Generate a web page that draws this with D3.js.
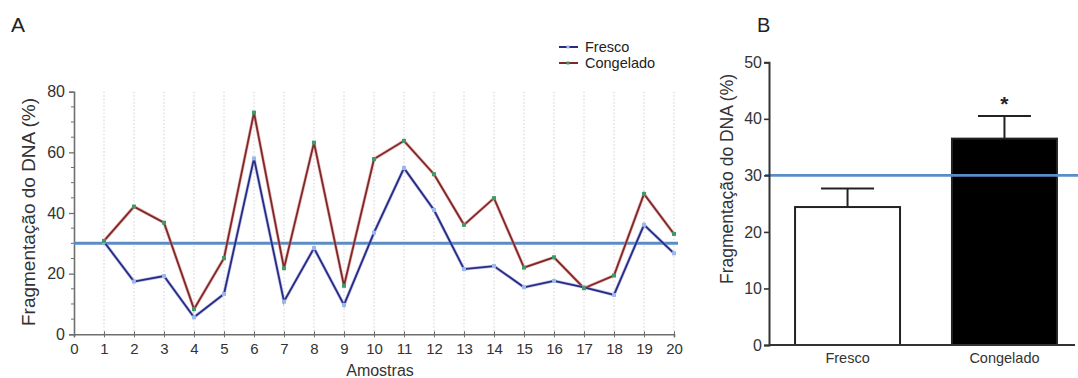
<!DOCTYPE html>
<html>
<head>
<meta charset="utf-8">
<script src="https://cdn.jsdelivr.net/npm/d3@7"></script>
<style>
  html, body { margin: 0; padding: 0; background: #fff; }
  svg { display: block; }
  text { font-family: "Liberation Sans", Arial, sans-serif; }
</style>
</head>
<body>
<svg id="chart" width="1078" height="378"></svg>
<script>
// Panel A: DNA fragmentation per sample
const samples = d3.range(1, 21);
const fresco = [30.5, 17.4, 19.2, 5.6, 13.3, 58.0, 10.8, 28.4, 9.7, 33.5,
                54.8, 41.0, 21.5, 22.5, 15.5, 17.6, 15.5, 13.0, 36.1, 26.7];
const congelado = [30.8, 42.1, 36.8, 8.3, 25.1, 73.1, 21.8, 63.2, 16.0, 57.8,
                   63.8, 52.8, 36.1, 44.9, 22.0, 25.4, 15.2, 19.4, 46.3, 33.1];
const xTicksA = d3.range(0, 21);
const yTicksA = [0, 20, 40, 60, 80];
const threshold = 30;

// Panel B: group means with SEM
const groups = ["Fresco", "Congelado"];
const means = [24.4, 36.5];
const sem = [3.3, 4.0];
const yTicksB = [0, 10, 20, 30, 40, 50];
const significance = ["", "*"];

const svg = d3.select("#chart");
const axisGray = "#6e6e6e";
const refBlue = "#5b8cc6";

// ---------- Panel A ----------
const xA = d3.scaleLinear().domain([0, 20]).range([74, 674]);
const yA = d3.scaleLinear().domain([0, 80]).range([334.3, 91.7]);

svg.append("text").attr("x", 11).attr("y", 32)
  .attr("font-size", 21).attr("font-family", "'Open Sans', sans-serif").attr("fill", "#222").text("A");

// dotted vertical grid
svg.append("g").selectAll("line").data(samples).join("line")
  .attr("x1", d => xA(d)).attr("x2", d => xA(d))
  .attr("y1", yA(80)).attr("y2", yA(0))
  .attr("stroke", "#cfcfcf").attr("stroke-width", 1).attr("stroke-dasharray", "1.5,2");

// y axis
const gyA = svg.append("g").attr("transform", `translate(${xA(0)},0)`)
  .call(d3.axisLeft(yA).tickValues(yTicksA).tickSize(5).tickPadding(4).tickFormat(d3.format("d")));
gyA.append("g").selectAll("line").data(d3.range(0, 81, 5).filter(v => v % 20 !== 0)).join("line")
  .attr("x1", 0).attr("x2", -3).attr("y1", d => yA(d)).attr("y2", d => yA(d))
  .attr("stroke", axisGray).attr("stroke-width", 1);
gyA.select(".domain").attr("stroke", axisGray).attr("stroke-width", 1.6);
gyA.selectAll(".tick line").attr("stroke", axisGray).attr("stroke-width", 1.3);
gyA.selectAll(".tick text").attr("font-size", 16).attr("fill", "#333")
  .attr("font-family", "'Liberation Sans', Arial, sans-serif");

// x axis
const gxA = svg.append("g").attr("transform", `translate(0,${yA(0)})`)
  .call(d3.axisBottom(xA).tickValues(xTicksA).tickSize(3).tickPadding(6).tickFormat(d3.format("d")));
gxA.select(".domain").attr("stroke", axisGray).attr("stroke-width", 1.6);
gxA.selectAll(".tick line").attr("stroke", axisGray).attr("stroke-width", 1).attr("y1", -3);
gxA.selectAll(".tick text").attr("font-size", 15).attr("fill", "#333")
  .attr("font-family", "'Liberation Sans', Arial, sans-serif");

svg.append("text").attr("x", 380).attr("y", 376).attr("text-anchor", "middle")
  .attr("font-size", 16).attr("fill", "#333").text("Amostras");

svg.append("text").attr("transform", `translate(35,212) rotate(-90)`)
  .attr("text-anchor", "middle").attr("font-size", 19).attr("fill", "#333")
  .text("Fragmentação do DNA (%)");

// threshold line
svg.append("line").attr("x1", xA(0)).attr("x2", 678)
  .attr("y1", yA(threshold)).attr("y2", yA(threshold))
  .attr("stroke", refBlue).attr("stroke-width", 3);

const lineA = d3.line().x((d, i) => xA(samples[i])).y(d => yA(d));
svg.append("path").datum(congelado).attr("d", lineA)
  .attr("fill", "none").attr("stroke", "#e88080").attr("stroke-width", 3.2).attr("opacity", 0.6);
svg.append("path").datum(congelado).attr("d", lineA)
  .attr("fill", "none").attr("stroke", "#7a2a2a").attr("stroke-width", 1.8);
svg.append("path").datum(fresco).attr("d", lineA)
  .attr("fill", "none").attr("stroke", "#8a9ae0").attr("stroke-width", 3.2).attr("opacity", 0.6);
svg.append("path").datum(fresco).attr("d", lineA)
  .attr("fill", "none").attr("stroke", "#2a2a80").attr("stroke-width", 1.8);

svg.append("g").selectAll("rect").data(fresco).join("rect")
  .attr("x", (d, i) => xA(samples[i]) - 2).attr("y", d => yA(d) - 2)
  .attr("width", 4).attr("height", 4).attr("fill", "#9ab8ea");
svg.append("g").selectAll("rect").data(congelado).join("rect")
  .attr("x", (d, i) => xA(samples[i]) - 2).attr("y", d => yA(d) - 2)
  .attr("width", 4).attr("height", 4).attr("fill", "#3f9a6a");

// legend
const legend = svg.append("g");
const legendItems = [
  { name: "Fresco", line: "#2a2a80", mark: "#9ab8ea", y: 47, ty: 51.5 },
  { name: "Congelado", line: "#7a2a2a", mark: "#3f9a6a", y: 63, ty: 68 }
];
legendItems.forEach(it => {
  legend.append("line").attr("x1", 559).attr("x2", 578).attr("y1", it.y).attr("y2", it.y)
    .attr("stroke", it.line).attr("stroke-width", 2);
  legend.append("rect").attr("x", 566.5).attr("y", it.y - 1.5).attr("width", 3).attr("height", 3)
    .attr("fill", it.mark);
  legend.append("text").attr("x", 585).attr("y", it.ty).attr("font-size", 14.5)
    .attr("fill", "#222").text(it.name);
});

// ---------- Panel B ----------
const yB = d3.scaleLinear().domain([0, 50]).range([345, 62.3]);
const xB = d3.scaleBand().domain(groups).range([769, 1083]).paddingInner(0.331).paddingOuter(0.166);

svg.append("text").attr("x", 757).attr("y", 32)
  .attr("font-size", 20).attr("font-family", "'Open Sans', sans-serif").attr("fill", "#222").text("B");

svg.append("text").attr("transform", `translate(733,179) rotate(-90)`)
  .attr("text-anchor", "middle").attr("font-size", 17.5).attr("fill", "#333")
  .text("Fragmentação do DNA (%)");

// bars
svg.append("g").selectAll("rect").data(groups).join("rect")
  .attr("x", d => xB(d)).attr("width", xB.bandwidth())
  .attr("y", (d, i) => yB(means[i])).attr("height", (d, i) => yB(0) - yB(means[i]))
  .attr("fill", (d, i) => i === 0 ? "#fff" : "#000")
  .attr("stroke", "#222").attr("stroke-width", 2);

// error bars
const eb = svg.append("g").attr("stroke", "#222").attr("stroke-width", 2);
groups.forEach((g, i) => {
  const cx = xB(g) + xB.bandwidth() / 2;
  eb.append("line").attr("x1", cx).attr("x2", cx)
    .attr("y1", yB(means[i])).attr("y2", yB(means[i] + sem[i]));
  eb.append("line").attr("x1", cx - 26.5).attr("x2", cx + 26.5)
    .attr("y1", yB(means[i] + sem[i])).attr("y2", yB(means[i] + sem[i]));
  if (significance[i]) {
    svg.append("text").attr("x", cx).attr("y", yB(means[i] + sem[i]) - 5)
      .attr("text-anchor", "middle").attr("font-size", 21).attr("font-weight", "bold")
      .attr("fill", "#222").text(significance[i]);
  }
});

// threshold line
svg.append("line").attr("x1", 765).attr("x2", 1078)
  .attr("y1", yB(threshold)).attr("y2", yB(threshold))
  .attr("stroke", refBlue).attr("stroke-width", 2.6);

// y axis
const gyB = svg.append("g").attr("transform", "translate(769,0)")
  .call(d3.axisLeft(yB).tickValues(yTicksB).tickSize(5).tickPadding(2).tickFormat(d3.format("d")));
gyB.select(".domain").attr("stroke", "#333").attr("stroke-width", 2);
gyB.selectAll(".tick line").attr("stroke", "#333").attr("stroke-width", 1.6);
gyB.selectAll(".tick text").attr("font-size", 16).attr("fill", "#333")
  .attr("font-family", "'Liberation Sans', Arial, sans-serif");

// x axis
svg.append("line").attr("x1", 769).attr("x2", 1075).attr("y1", yB(0)).attr("y2", yB(0))
  .attr("stroke", "#333").attr("stroke-width", 2);
svg.append("g").selectAll("text").data(groups).join("text")
  .attr("x", d => xB(d) + xB.bandwidth() / 2).attr("y", 363)
  .attr("text-anchor", "middle").attr("font-size", 14.5).attr("fill", "#333")
  .text(d => d);
</script>
</body>
</html>
